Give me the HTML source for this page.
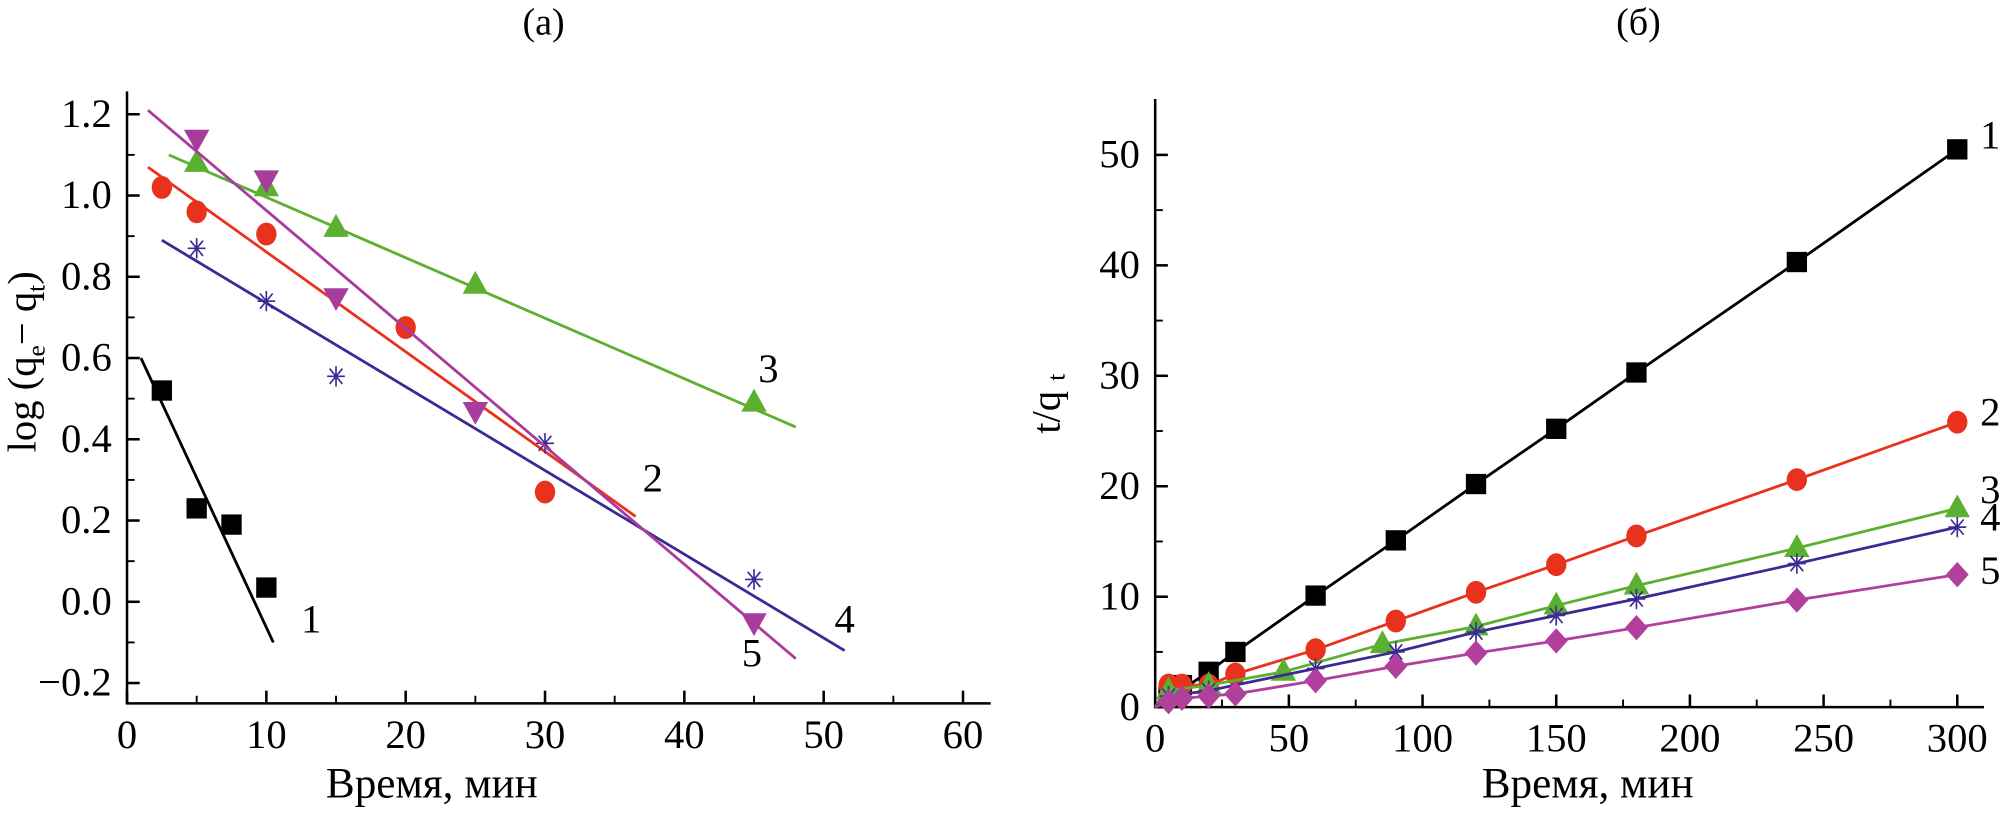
<!DOCTYPE html>
<html><head><meta charset="utf-8"><style>
body{margin:0;background:#fff}
svg text{font-family:"Liberation Serif",serif;fill:#000}
</style></head><body>
<svg id="s" width="2003" height="810" viewBox="0 0 1577 638" preserveAspectRatio="none" xmlns="http://www.w3.org/2000/svg">
<text x="428" y="27" font-size="30" text-anchor="middle">(a)</text>
<text x="1290" y="27" font-size="30" text-anchor="middle">(б)</text>
<text x="340" y="628" font-size="34" text-anchor="middle">Время, мин</text>
<text x="1250" y="628" font-size="34" text-anchor="middle">Время, мин</text>
<text transform="translate(28,285) rotate(-90)" font-size="32" text-anchor="middle">log (q<tspan font-size="20" dy="7">e</tspan><tspan dy="-7">− q</tspan><tspan font-size="20" dy="7">t</tspan><tspan dy="-7">)</tspan></text>
<text transform="translate(834,318) rotate(-90)" font-size="32" text-anchor="middle">t/q <tspan font-size="20" dy="4">t</tspan></text>
<g id="ga"></g><g id="gb"></g>
</svg>
<script>
const NS='http://www.w3.org/2000/svg';
function mk(p,t,a){const e=document.createElementNS(NS,t);for(const k in a)e.setAttribute(k,a[k]);p.appendChild(e);return e;}
// Panel A data
const aX1=[2.5,5,7.5,10], aY1=[0.52,0.23,0.19,0.035], aL1=[[1,0.6],[10.5,-0.1]];
const aX2=[2.5,5,10,20,30], aY2=[1.02,0.96,0.905,0.675,0.27], aL2=[[1.5,1.07],[36.5,0.21]];
const aX3=[5,10,15,25,45], aY3=[1.08,1.02,0.92,0.78,0.49], aL3=[[3,1.1],[48,0.43]];
const aX4=[5,10,15,30,45], aY4=[0.87,0.74,0.555,0.39,0.055], aL4=[[2.5,0.89],[51.5,-0.12]];
const aX5=[5,10,15,25,45], aY5=[1.14,1.04,0.75,0.47,-0.05], aL5=[[1.5,1.21],[48,-0.14]];
const aXT=[0,10,20,30,40,50,60], aYT=[-0.2,0.0,0.2,0.4,0.6,0.8,1.0,1.2];
// Panel B data
const bX1=[5,10,20,30,60,90,120,150,180,240,300], bY1=[1,2,3.2,5,10.1,15.1,20.2,25.2,30.3,40.3,50.5];
const bX2=[5,10,20,30,60,90,120,150,180,240,300], bY2=[2,2,2,3,5.2,7.8,10.4,12.9,15.5,20.6,25.8];
const bX3=[5,20,48,85,120,150,180,240,300], bY3=[1.5,2,3.2,5.7,7.3,9.2,11,14.4,18];
const bX4=[5,20,60,90,120,150,180,240,300], bY4=[1,1.5,3.5,5,6.8,8.3,9.8,13,16.3];
const bX5=[5,10,20,30,60,90,120,150,180,240,300], bY5=[0.5,0.8,1,1.2,2.4,3.7,4.9,6,7.2,9.7,12];
const bXT=[0,50,100,150,200,250,300], bYT=[0,10,20,30,40,50];
const ax=v=>100+v*10.97, ay=v=>474-v*320;
const bx=v=>909.5+v*2.105, by=v=>557-v*8.7;
function marker(g,type,x,y,c){
 let e;
 if(type==='sq')e=mk(g,'rect',{x:x-8,y:y-8,width:16,height:16,fill:c});
 else if(type==='ci')e=mk(g,'ellipse',{cx:x,cy:y,rx:8,ry:9,fill:c});
 else if(type==='up')e=mk(g,'polygon',{points:`${x},${y-11} ${x-10},${y+7} ${x+10},${y+7}`,fill:c});
 else if(type==='dn')e=mk(g,'polygon',{points:`${x},${y+11} ${x-10},${y-7} ${x+10},${y-7}`,fill:c});
 else if(type==='di')e=mk(g,'polygon',{points:`${x},${y-10} ${x+9},${y} ${x},${y+10} ${x-9},${y}`,fill:c});
 else {e=mk(g,'path',{d:`M${x-7} ${y}H${x+7}M${x} ${y-8}V${y+8}M${x-5} ${y-6}L${x+5} ${y+6}M${x-5} ${y+6}L${x+5} ${y-6}`,stroke:c,'stroke-width':1.3,fill:'none'});}
 
 
}
function axes(g,x0,y0,x1,y1,xt,yt,fx,fy,fmtY){
 let a=mk(g,'path',{d:`M${x0} ${y1}V${y0}H${x1}`,stroke:'#000','stroke-width':2,fill:'none'});
 
 
 xt.forEach((v,i)=>{const x=fx(v);mk(g,'line',{x1:x,x2:x,y1:y0,y2:y0-10,stroke:'#000','stroke-width':2});
  if(i<xt.length-1){const m=fx(v+(xt[1]-xt[0])/2);mk(g,'line',{x1:m,x2:m,y1:y0,y2:y0-6,stroke:'#000','stroke-width':1.5});}
  const t=mk(g,'text',{x:x,y:y0+35,'font-size':32,'text-anchor':'middle'});t.textContent=v;
  
  });
 yt.forEach((v,i)=>{const y=fy(v);mk(g,'line',{x1:x0,x2:x0+10,y1:y,y2:y,stroke:'#000','stroke-width':2});
  if(i<yt.length-1){const m=fy(v+(yt[1]-yt[0])/2);mk(g,'line',{x1:x0,x2:x0+6,y1:m,y2:m,stroke:'#000','stroke-width':1.5});}
  const t=mk(g,'text',{x:x0-12,y:y+10,'font-size':32,'text-anchor':'end'});t.textContent=fmtY(v);
  
  });
}
const ga=document.getElementById('ga'), gb=document.getElementById('gb');
axes(ga,100,554,780,72,aXT,aYT,ax,ay,v=>v.toFixed(1).replace('-','−'));
axes(gb,909.5,557,1562,78,bXT,bYT,bx,by,v=>v);
const colors=['#000','#e8321e','#5cb030','#3c2a94','#a83c9c'];
const aS=[[aX1,aY1,aL1,'sq'],[aX2,aY2,aL2,'ci'],[aX3,aY3,aL3,'up'],[aX4,aY4,aL4,'st'],[aX5,aY5,aL5,'dn']];
aS.forEach((s,i)=>{const l=mk(ga,'line',{x1:ax(s[2][0][0]),y1:ay(s[2][0][1]),x2:ax(s[2][1][0]),y2:ay(s[2][1][1]),stroke:colors[i],'stroke-width':2.2});
 
 
 s[0].forEach((x,j)=>marker(ga,s[3],ax(x),ay(s[1][j]),colors[i]));});
const bS=[[bX1,bY1,'sq'],[bX2,bY2,'ci'],[bX3,bY3,'up'],[bX4,bY4,'st'],[bX5,bY5,'di']];
const bc=['#000','#e8321e','#5cb030','#3c2a94','#b0409c'];
bS.forEach((s,i)=>{let d=`M${bx(0)} ${by(0)}`;s[0].forEach((x,j)=>{if(j>=2||i>0)d+=`L${bx(x)} ${by(s[1][j])}`;});
 const l=mk(gb,'path',{d:d,stroke:bc[i],'stroke-width':2.2,fill:'none'});
 
 
 s[0].forEach((x,j)=>marker(gb,s[2],bx(x),by(s[1][j]),bc[i]));});
const labs=[[245,498,'1'],[514,387,'2'],[605,301,'3'],[665,498,'4'],[592,525,'5'],[1567,117,'1'],[1567,335,'2'],[1567,396,'3'],[1567,418,'4'],[1567,460,'5']];
labs.forEach(l=>{const t=mk(document.getElementById('s'),'text',{x:l[0],y:l[1],'font-size':32,'text-anchor':'middle'});t.textContent=l[2];
 
 });
</script>
</body></html>
